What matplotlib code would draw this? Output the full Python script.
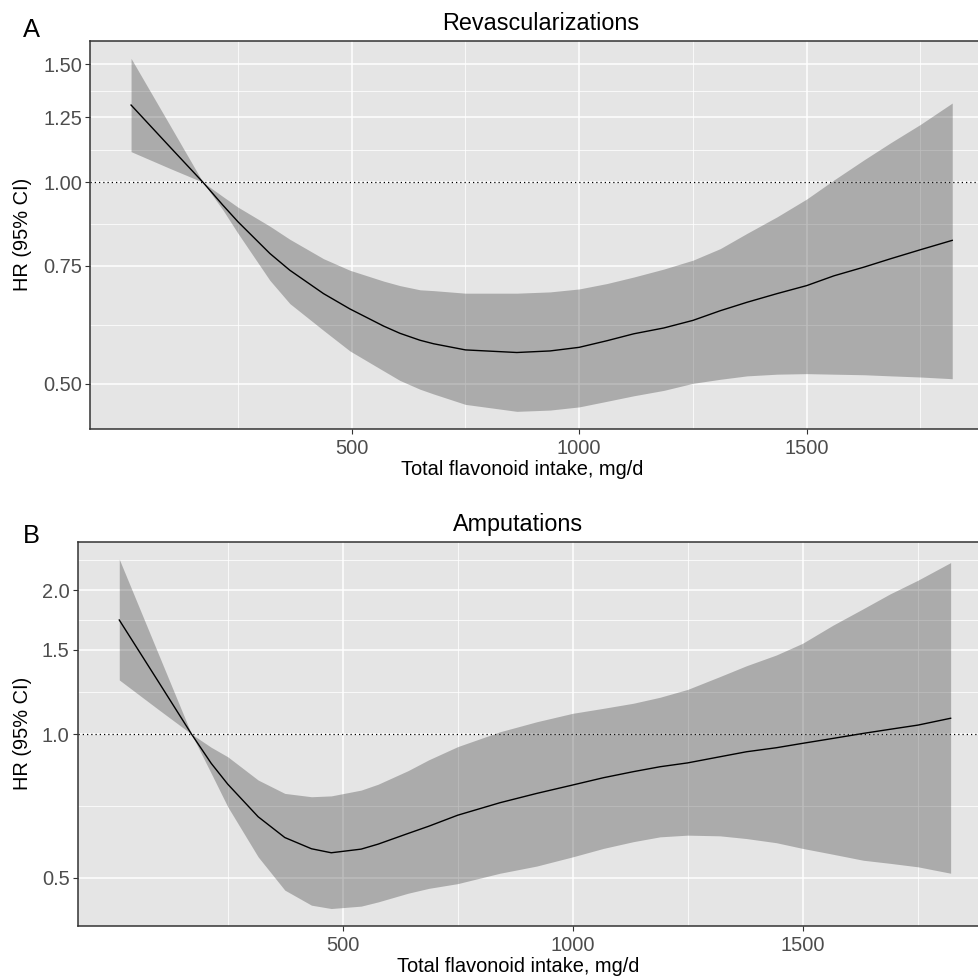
import matplotlib
matplotlib.use("Agg")
import matplotlib.pyplot as plt
import numpy as np
from matplotlib.ticker import FixedLocator, FixedFormatter, NullFormatter

plt.rcParams["font.family"] = ["Liberation Sans", "DejaVu Sans"]

# Panel A: revascularizations
revasc_x = [15, 100, 173, 217, 250, 320, 364, 438, 496, 570, 606, 650, 680, 750,
            863, 936, 1000, 1061, 1120, 1186, 1250, 1310, 1369, 1435, 1500,
            1560, 1626, 1685, 1750, 1820]
revasc_hr = [1.304, 1.13, 1.0, 0.924, 0.873, 0.783, 0.739, 0.682, 0.647, 0.610,
             0.595, 0.581, 0.574, 0.562, 0.557, 0.560, 0.567, 0.580, 0.594, 0.606,
             0.622, 0.643, 0.662, 0.682, 0.701, 0.725, 0.747, 0.769, 0.793, 0.819]
revasc_lo = [1.111, 1.049, 1.0, 0.909, 0.839, 0.714, 0.659, 0.601, 0.560, 0.523,
             0.506, 0.491, 0.483, 0.466, 0.455, 0.457, 0.462, 0.471, 0.480, 0.489,
             0.501, 0.508, 0.514, 0.517, 0.518, 0.517, 0.516, 0.514, 0.512, 0.509]
revasc_hi = [1.531, 1.218, 1.0, 0.952, 0.918, 0.860, 0.822, 0.769, 0.739, 0.712,
             0.701, 0.691, 0.689, 0.683, 0.683, 0.686, 0.693, 0.706, 0.722, 0.742,
             0.765, 0.796, 0.839, 0.888, 0.944, 1.008, 1.080, 1.146, 1.22, 1.313]

# Panel B: amputations
amput_x = [14, 100, 171, 214, 250, 316, 374, 432, 475, 540, 577, 642, 687, 750,
           842, 922, 1000, 1067, 1132, 1190, 1250, 1320, 1378, 1443, 1500, 1566,
           1632, 1690, 1751, 1822]
amput_hr = [1.733, 1.283, 1.0, 0.868, 0.785, 0.671, 0.607, 0.575, 0.564, 0.574,
            0.588, 0.619, 0.641, 0.676, 0.718, 0.751, 0.782, 0.810, 0.834, 0.854,
            0.870, 0.896, 0.918, 0.936, 0.956, 0.979, 1.003, 1.023, 1.044, 1.079]
amput_lo = [1.298, 1.124, 1.0, 0.827, 0.704, 0.553, 0.471, 0.438, 0.431, 0.436,
            0.445, 0.464, 0.475, 0.486, 0.511, 0.529, 0.553, 0.576, 0.595, 0.609,
            0.614, 0.612, 0.604, 0.592, 0.576, 0.560, 0.544, 0.536, 0.527, 0.511]
amput_hi = [2.324, 1.464, 1.0, 0.938, 0.896, 0.801, 0.751, 0.739, 0.742, 0.763,
            0.785, 0.838, 0.883, 0.941, 1.011, 1.061, 1.105, 1.132, 1.160, 1.194,
            1.240, 1.319, 1.39, 1.464, 1.549, 1.69, 1.83, 1.965, 2.10, 2.286]

revasc_yticks = [0.5, 0.75, 1.0, 1.25, 1.5]
revasc_ylabels = ["0.50", "0.75", "1.00", "1.25", "1.50"]
amput_yticks = [0.5, 1.0, 1.5, 2.0]
amput_ylabels = ["0.5", "1.0", "1.5", "2.0"]
x_ticks = [500, 1000, 1500]
x_minor = [250, 750, 1250, 1750]

W, H = 979, 976
BG = "#E5E5E5"
TICK_COLOR = "#4D4D4D"


def minor_log(breaks, lo, hi):
    # ggplot style minor breaks: halfway between majors in log space
    lb = np.log(breaks)
    mids = list((lb[:-1] + lb[1:]) / 2)
    mids.append(lb[-1] + (lb[-1] - lb[-2]) / 2)
    mids.insert(0, lb[0] - (lb[1] - lb[0]) / 2)
    return [float(np.exp(m)) for m in mids if np.log(lo) < m < np.log(hi)]


def expand_log(lo_vals, hi_vals):
    a, b = np.log(min(lo_vals)), np.log(max(hi_vals))
    d = (b - a) * 0.05
    return float(np.exp(a - d)), float(np.exp(b + d))


def panel(fig, rect, xs, hr, lo, hi, yticks, ylabels):
    ax = fig.add_axes(rect)
    ax.set_facecolor(BG)
    ax.set_yscale("log")
    ylo, yhi = expand_log(lo, hi)
    ax.set_ylim(ylo, yhi)
    span = max(xs) - min(xs)
    ax.set_xlim(min(xs) - 0.05 * span, max(xs) + 0.05 * span)

    for m in minor_log(yticks, ylo, yhi):
        ax.axhline(m, color="white", lw=0.55, zorder=0.5)
    for m in x_minor:
        ax.axvline(m, color="white", lw=0.55, zorder=0.5)
    for t in yticks:
        ax.axhline(t, color="white", lw=1.1, zorder=0.6)
    for t in x_ticks:
        ax.axvline(t, color="white", lw=1.1, zorder=0.6)

    ax.axhline(1.0, color="black", lw=0.9, linestyle=(0, (1, 2.4)), zorder=1)
    ax.fill_between(xs, lo, hi, color="#333333", alpha=0.32, linewidth=0, zorder=2)
    ax.plot(xs, hr, color="black", lw=1.0, zorder=3, solid_joinstyle="round")

    ax.yaxis.set_major_locator(FixedLocator(yticks))
    ax.yaxis.set_major_formatter(FixedFormatter(ylabels))
    ax.yaxis.set_minor_locator(FixedLocator([]))
    ax.yaxis.set_minor_formatter(NullFormatter())
    ax.xaxis.set_major_locator(FixedLocator(x_ticks))
    ax.xaxis.set_minor_locator(FixedLocator([]))
    ax.tick_params(axis="both", which="major", length=3.4, width=0.8,
                   color="#333333", labelcolor=TICK_COLOR, labelsize=14.4)
    ax.tick_params(axis="y", pad=2.4)
    ax.tick_params(axis="x", pad=3.8)
    for s in ax.spines.values():
        s.set_color("#333333")
        s.set_linewidth(1.1)
    ax.spines["right"].set_visible(False)
    return ax


fig = plt.figure(figsize=(W / 100, H / 100), dpi=100)


def fx(px):
    return px / W


def fy(py):
    return 1 - py / H


# panel A
a_left, a_width = 90.0, 903.3
a_top, a_bot = 40.7, 429.0
panel(fig, [fx(a_left), fy(a_bot), a_width / W, (a_bot - a_top) / H],
      revasc_x, revasc_hr, revasc_lo, revasc_hi, revasc_yticks, revasc_ylabels)
fig.text(fx(541), fy(30), "Revascularizations", ha="center", va="baseline", fontsize=16.8)
fig.text(fx(22.7), fy(37.3), "A", ha="left", va="baseline", fontsize=18.4)
fig.text(fx(522), fy(474.7), "Total flavonoid intake, mg/d", ha="center", va="baseline", fontsize=14.4)
fig.text(fx(22.5), fy((a_top + a_bot) / 2), "HR (95% CI)", ha="center", va="center",
         rotation=90, fontsize=14.4)

# panel B
b_left, b_width = 77.7, 914.5
b_top, b_bot = 541.7, 926.0
panel(fig, [fx(b_left), fy(b_bot), b_width / W, (b_bot - b_top) / H],
      amput_x, amput_hr, amput_lo, amput_hi, amput_yticks, amput_ylabels)
fig.text(fx(518), fy(531), "Amputations", ha="center", va="baseline", fontsize=16.8)
fig.text(fx(23.3), fy(542.7), "B", ha="left", va="baseline", fontsize=18.4)
fig.text(fx(518), fy(971.7), "Total flavonoid intake, mg/d", ha="center", va="baseline", fontsize=14.4)
fig.text(fx(22.5), fy((b_top + b_bot) / 2), "HR (95% CI)", ha="center", va="center",
         rotation=90, fontsize=14.4)

fig.savefig("out.png", dpi=100, facecolor="white")
